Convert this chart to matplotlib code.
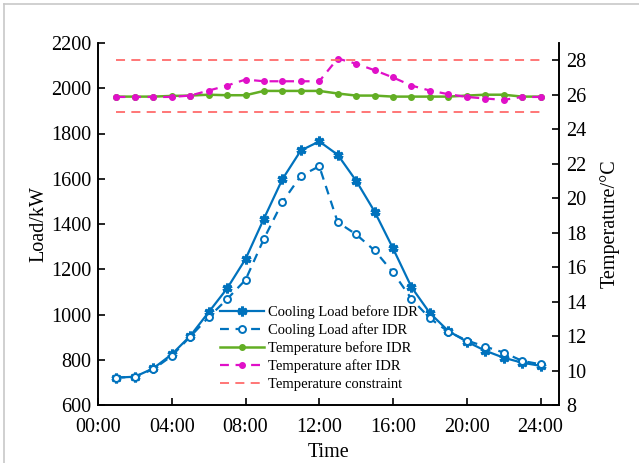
import matplotlib
matplotlib.use("Agg")
import matplotlib.pyplot as plt
from matplotlib.lines import Line2D

plt.rcParams["font.family"] = ["Liberation Serif", "DejaVu Serif"]
plt.rcParams["mathtext.fontset"] = "stix"

hours = list(range(1, 25))
load_before = [721, 725, 762, 824, 905, 1010, 1115, 1245, 1424, 1598, 1725, 1765,
               1706, 1591, 1455, 1292, 1121, 1006, 927, 880, 840, 809, 787, 773]
load_after = [721, 725, 758, 817, 902, 988, 1068, 1153, 1335, 1497, 1613, 1655,
              1408, 1354, 1283, 1186, 1069, 983, 924, 885, 858, 832, 795, 780]
temp_before = [25.89, 25.89, 25.89, 25.93, 25.95, 26.0, 25.97, 25.97, 26.22, 26.22, 26.22, 26.22,
               26.07, 25.95, 25.95, 25.89, 25.89, 25.89, 25.89, 25.95, 26.0, 26.0, 25.89, 25.89]
temp_after = [25.87, 25.87, 25.87, 25.87, 25.95, 26.24, 26.53, 26.88, 26.78, 26.78, 26.78, 26.78,
              28.1, 27.8, 27.42, 27.0, 26.53, 26.24, 26.03, 25.87, 25.78, 25.70, 25.87, 25.87]
temp_upper = 28
temp_lower = 25
xtick_hours = [0, 4, 8, 12, 16, 20, 24]
xtick_labels = ["00:00", "04:00", "08:00", "12:00", "16:00", "20:00", "24:00"]

blue = "#0072BD"
green = "#62AE24"
magenta = "#E010C8"
red = "#FF6B6B"

W, H = 639, 463
fig = plt.figure(figsize=(W / 100, H / 100), dpi=100)
ax = fig.add_axes([98 / W, (H - 405) / H, (559 - 98) / W, (405 - 43) / H])
ax2 = ax.twinx()

# light frame round the picture
fig.add_artist(Line2D([4 / W, 4 / W], [0, 1 - 4 / H], transform=fig.transFigure, color="#c8c8c8", lw=1.2))
fig.add_artist(Line2D([4 / W, 1], [1 - 4 / H, 1 - 4 / H], transform=fig.transFigure, color="#c8c8c8", lw=1.2))

l1, = ax.plot(hours, load_before, color=blue, lw=1.6, marker=(6, 2, 0), ms=7, mew=2.2,
              label="Cooling Load before IDR")
l2, = ax.plot(hours, load_after, color=blue, lw=1.6, ls=(0, (4, 3)), marker="o", ms=5, mew=1.4,
              mfc="white", label="Cooling Load after IDR")

l3, = ax2.plot(hours, temp_before, color=green, lw=1.8, marker="o", ms=4, label="Temperature before IDR")
l4, = ax2.plot(hours, temp_after, color=magenta, lw=1.6, ls=(0, (4, 3)), marker="o", ms=4,
               label="Temperature after IDR")
l5, = ax2.plot([hours[0], hours[-1]], [temp_upper, temp_upper], color=red, lw=1.3, ls=(0, (5, 3.5)),
               label="Temperature constraint")
ax2.plot([hours[0], hours[-1]], [temp_lower, temp_lower], color=red, lw=1.3, ls=(0, (5, 3.5)))

ax.set_xlim(0, 25)
ax.set_ylim(600, 2200)
ax.set_yticks(range(600, 2201, 200))
ax.set_xticks(xtick_hours)
ax.set_xticklabels(xtick_labels)
ax2.set_ylim(8, 29)
ax2.set_yticks(range(8, 29, 2))

for a in (ax, ax2):
    a.spines["top"].set_visible(False)
    a.spines["left"].set_linewidth(1.2)
    a.spines["right"].set_linewidth(1.2)
    a.spines["bottom"].set_linewidth(1.2)
    a.tick_params(direction="in", labelsize=14.5, length=5, width=1.2, pad=5)
ax.tick_params(axis="x", pad=9)

ax.set_xlabel("Time", fontsize=14.5, labelpad=5)
ax.set_ylabel("Load/kW", fontsize=14.5, labelpad=2)
ax2.set_ylabel("Temperature/°C", fontsize=14.5, labelpad=10)

ax2.legend(handles=[l1, l2, l3, l4, l5], loc="upper left",
           bbox_to_anchor=(220 / W, 1 - 305 / H), bbox_transform=fig.transFigure,
           frameon=False, fontsize=10.5, handlelength=3.0, handletextpad=0.3,
           labelspacing=0.3, borderpad=0, borderaxespad=0)

fig.savefig("out.png", dpi=100)
